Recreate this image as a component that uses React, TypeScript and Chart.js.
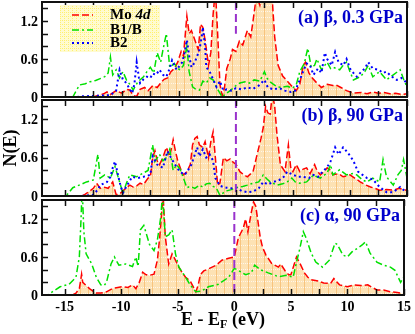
import { useEffect, useRef } from 'react';
import { Chart, registerables } from 'chart.js';

Chart.register(...registerables);

type Pt = [number, number];

// ---------- data ----------
const xRange: Pt = [-17, 15];
const yRange: Pt = [0, 1.5];
const xTickLabels = [-15, -10, -5, 0, 5, 10, 15];
const yTickLabels = [0, 0.6, 1.2];
const xMinorStep = 2.5;
const yMinorStep = 0.2;
const fermiEnergy = 0;
const seriesLabels = ['Mo 4d', 'B1/B', 'B2'];
const panelTitles = ['(a) β, 0.3 GPa', '(b) β, 90 GPa', '(c) α, 90 GPa'];

const moA: Pt[] = [[-17,0],[-12.5,0],[-12,0.03],[-11.6,0.05],[-11.3,0.08],[-11,0.04],[-10.5,0.1],[-10,0.06],[-9.6,0.12],[-9.3,0.11],[-9,0.02],[-8.7,0.01],[-8.4,0.12],[-8,0.15],[-7.7,0.1],[-7.3,0.18],[-6.9,0.15],[-6.6,0.22],[-6.3,0.28],[-6,0.3],[-5.7,0.4],[-5.4,0.45],[-5.1,0.55],[-4.8,0.72],[-4.6,0.65],[-4.3,1.28],[-4.1,1.0],[-3.9,1.05],[-3.6,0.9],[-3.3,0.75],[-3.1,1.15],[-2.9,1.1],[-2.7,0.9],[-2.4,0.5],[-2.2,0.7],[-2.0,1.3],[-1.8,1.7],[-1.6,1.0],[-1.4,0.2],[-1.2,0.02],[-1.0,0.15],[-0.8,0.45],[-0.5,0.6],[-0.3,0.75],[0,0.72],[0.3,0.88],[0.6,0.82],[1.0,1.05],[1.3,0.95],[1.5,1.2],[1.8,1.6],[2.1,1.45],[2.4,1.7],[2.7,1.55],[3.0,1.8],[3.2,1.5],[3.4,0.95],[3.7,0.5],[4.1,0.33],[4.5,0.25],[5.0,0.15],[5.3,0.1],[5.6,0.2],[5.9,0.5],[6.1,0.55],[6.4,0.38],[6.7,0.3],[7.1,0.22],[7.5,0.15],[8.0,0.2],[8.5,0.18],[8.8,0.19],[9.2,0.15],[9.7,0.1],[10.3,0.06],[11,0.07],[11.5,0.05],[12,0.08],[12.5,0.06],[13,0.07],[13.5,0.05],[14,0.06],[14.5,0.04],[15,0.05]];

const b1A: Pt[] = [[-17,0],[-14.3,0],[-14,0.1],[-13.7,0.19],[-13.2,0.21],[-12.8,0.24],[-12.3,0.26],[-11.9,0.29],[-11.5,0.32],[-11.2,0.38],[-11.0,0.63],[-10.8,0.35],[-10.5,0.43],[-10.2,0.3],[-9.9,0.4],[-9.6,0.27],[-9.3,0.2],[-9.0,0.11],[-8.6,0.24],[-8.1,0.32],[-7.8,0.4],[-7.5,0.47],[-7.2,0.38],[-6.9,0.7],[-6.6,0.55],[-6.4,0.74],[-6.1,1.0],[-5.8,0.47],[-5.4,0.53],[-5.1,0.45],[-4.9,0.43],[-4.6,0.5],[-4.3,0.8],[-4.1,0.4],[-3.8,0.16],[-3.5,0.12],[-3.2,0.11],[-2.9,0.25],[-2.6,0.22],[-2.3,0.3],[-2.0,0.27],[-1.7,0.15],[-1.4,0.06],[-1.2,0.0],[-0.9,0.05],[-0.5,0.1],[0,0.18],[0.35,0.22],[0.8,0.24],[1.2,0.22],[1.6,0.27],[2.1,0.25],[2.5,0.4],[2.7,0.3],[3.0,0.24],[3.3,0.2],[3.6,0.16],[4.0,0.15],[4.5,0.17],[5.0,0.14],[5.3,0.2],[5.6,0.4],[6.0,0.53],[6.3,0.77],[6.6,0.47],[6.9,0.5],[7.1,0.6],[7.5,0.43],[8.0,0.55],[8.3,0.45],[8.5,0.47],[9.1,0.43],[9.4,0.5],[9.7,0.55],[10.0,0.4],[10.3,0.27],[10.9,0.32],[11.3,0.4],[11.6,0.5],[12.0,0.32],[12.6,0.4],[13.2,0.27],[13.8,0.35],[14.4,0.43],[14.7,0.28],[15,0.16]];

const b2A: Pt[] = [[-17,0],[-14,0],[-13.5,0.01],[-12,0.02],[-11,0.03],[-10.5,0.1],[-10.2,0.43],[-9.9,0.27],[-9.6,0.22],[-9.3,0.12],[-9.1,0.06],[-8.9,0.2],[-8.7,0.55],[-8.5,0.3],[-8.4,0.22],[-8.1,0.28],[-7.8,0.32],[-7.5,0.3],[-7.3,0.37],[-7.0,0.35],[-6.7,0.43],[-6.4,0.35],[-6.1,0.32],[-5.8,0.45],[-5.6,0.58],[-5.2,0.43],[-4.9,0.5],[-4.7,0.55],[-4.5,0.7],[-4.3,0.9],[-4.1,0.65],[-3.9,0.47],[-3.6,0.55],[-3.2,0.74],[-3.0,0.95],[-2.9,1.1],[-2.7,0.8],[-2.6,0.47],[-2.3,0.4],[-2.1,0.32],[-1.7,0.16],[-1.4,0.25],[-1.1,0.1],[-0.8,0.12],[-0.4,0.1],[0,0.14],[0.5,0.12],[1.0,0.15],[1.5,0.13],[2.0,0.18],[2.5,0.27],[2.8,0.15],[3.3,0.12],[3.8,0.14],[4.3,0.1],[4.8,0.08],[5.2,0.1],[5.6,0.27],[6.0,0.45],[6.2,0.53],[6.5,0.5],[6.8,0.35],[7.2,0.45],[7.5,0.38],[7.8,0.7],[8.0,0.6],[8.4,0.5],[8.7,0.71],[9.0,0.55],[9.4,0.5],[9.7,0.6],[10.0,0.45],[10.3,0.38],[10.6,0.32],[11.0,0.4],[11.3,0.45],[11.6,0.55],[12.0,0.45],[12.5,0.43],[12.9,0.38],[13.2,0.4],[13.6,0.33],[14.1,0.27],[14.5,0.3],[15,0.22]];

const moB: Pt[] = [[-17,0],[-13.5,0],[-13.2,0.03],[-12.8,0.08],[-12.5,0.12],[-12.2,0.2],[-11.9,0.12],[-11.6,0.14],[-11.2,0.12],[-10.8,0.22],[-10.5,0.02],[-10.2,0.03],[-9.9,0.08],[-9.6,0.13],[-9.3,0.17],[-9.0,0.14],[-8.7,0.16],[-8.4,0.2],[-8.1,0.18],[-7.7,0.28],[-7.5,0.3],[-7.3,0.6],[-7.1,0.71],[-6.9,0.55],[-6.7,0.49],[-6.4,0.6],[-6.1,0.76],[-5.8,0.62],[-5.5,0.88],[-5.3,0.7],[-5.1,0.55],[-4.8,0.4],[-4.6,0.33],[-4.3,0.38],[-4.0,0.49],[-3.8,0.8],[-3.6,0.9],[-3.4,0.93],[-3.2,0.8],[-2.9,0.76],[-2.7,0.85],[-2.4,0.6],[-2.2,0.85],[-2.0,1.0],[-1.8,0.6],[-1.6,0.17],[-1.4,0.2],[-1.1,0.6],[-0.8,0.55],[-0.5,0.58],[-0.2,0.52],[0,0.5],[0.35,0.38],[0.7,0.33],[1.0,0.3],[1.5,0.38],[1.9,0.68],[2.2,0.9],[2.4,1.07],[2.6,1.4],[2.8,1.3],[3.0,1.28],[3.2,1.6],[3.4,1.4],[3.6,0.96],[3.9,0.49],[4.3,0.38],[4.6,0.8],[4.8,0.45],[5.0,0.38],[5.3,0.49],[5.6,0.38],[5.9,0.42],[6.2,0.44],[6.5,0.35],[6.9,0.49],[7.1,0.4],[7.4,0.33],[7.7,0.38],[8.0,0.44],[8.3,0.4],[8.5,0.33],[9.0,0.35],[9.4,0.3],[10,0.33],[10.5,0.27],[10.9,0.22],[11.4,0.17],[11.8,0.14],[12.2,0.12],[12.6,0.09],[13.2,0.1],[13.8,0.09],[14.3,0.12],[14.8,0.1],[15,0.08]];

const b1B: Pt[] = [[-17,0],[-15,0],[-14.8,0.02],[-14.3,0.13],[-13.6,0.18],[-13.1,0.22],[-12.5,0.25],[-12.1,0.65],[-11.9,0.28],[-11.5,0.33],[-11.0,0.28],[-10.6,0.46],[-10.3,0.28],[-9.9,0.04],[-9.6,0.2],[-9.3,0.33],[-8.7,0.3],[-8.1,0.36],[-7.7,0.4],[-7.5,0.6],[-7.3,0.8],[-7.1,0.54],[-6.7,0.65],[-6.4,0.55],[-6.1,0.6],[-5.8,0.73],[-5.5,0.4],[-5.2,0.49],[-4.9,0.42],[-4.6,0.28],[-4.3,0.13],[-4.0,0.15],[-3.6,0.12],[-3.2,0.17],[-2.9,0.14],[-2.6,0.19],[-2.3,0.2],[-2.0,0.15],[-1.7,0.12],[-1.4,0.01],[-1.1,0.05],[-0.8,0.08],[-0.4,0.1],[0,0.13],[0.6,0.15],[1.0,0.17],[1.5,0.2],[2.0,0.22],[2.4,0.33],[2.7,0.27],[3.0,0.22],[3.6,0.17],[4.1,0.19],[4.5,0.22],[4.9,0.28],[5.2,0.22],[5.6,0.2],[6.2,0.22],[6.8,0.33],[7.1,0.3],[7.4,0.28],[8.0,0.36],[8.3,0.49],[8.5,0.33],[9.1,0.41],[9.7,0.33],[10.2,0.35],[10.6,0.33],[11.1,0.25],[11.5,0.22],[12.0,0.28],[12.6,0.22],[12.9,0.57],[13.2,0.3],[13.8,0.17],[14.2,0.33],[14.5,0.4],[14.7,0.57],[15,0.28]];

const b2B: Pt[] = [[-17,0],[-13.5,0],[-12.5,0.02],[-12.1,0.1],[-11.9,0.17],[-11.3,0.22],[-11.0,0.3],[-10.8,0.44],[-10.6,0.54],[-10.3,0.3],[-10.1,0.15],[-9.9,0.05],[-9.6,0.15],[-9.1,0.3],[-8.6,0.28],[-8.1,0.3],[-7.5,0.33],[-7.3,0.62],[-6.9,0.49],[-6.4,0.44],[-6.0,0.7],[-5.7,0.6],[-5.5,0.54],[-5.2,0.45],[-4.9,0.38],[-4.5,0.33],[-4.2,0.4],[-3.9,0.49],[-3.6,0.65],[-3.4,0.76],[-3.2,0.62],[-2.9,0.73],[-2.6,0.6],[-2.3,0.65],[-2.0,0.55],[-1.8,0.28],[-1.4,0.16],[-1.1,0.14],[-0.8,0.13],[-0.4,0.12],[0,0.13],[0.5,0.08],[1.0,0.06],[1.5,0.07],[2.0,0.12],[2.4,0.22],[2.8,0.18],[3.3,0.22],[3.8,0.25],[4.2,0.3],[4.5,0.38],[5.0,0.33],[5.5,0.3],[5.9,0.3],[6.4,0.28],[6.8,0.33],[7.2,0.3],[7.6,0.38],[8.0,0.45],[8.3,0.54],[8.7,0.76],[9.0,0.65],[9.4,0.76],[9.8,0.68],[10.3,0.55],[10.7,0.38],[11.1,0.33],[11.5,0.28],[12.0,0.26],[12.6,0.14],[13.2,0.06],[13.8,0.06],[14.4,0.14],[14.8,0.08],[15,0.1]];

const moC: Pt[] = [[-17,0],[-14.3,0],[-14,0.03],[-13.7,0.1],[-13.5,0.33],[-13.4,0.2],[-13.1,0.15],[-12.8,0.1],[-12.5,0.06],[-12.2,0.03],[-11.8,0.03],[-11.3,0.05],[-10.8,0.1],[-10.3,0.12],[-9.9,0.13],[-9.4,0.12],[-9.0,0.16],[-8.7,0.1],[-8.4,0.2],[-8.1,0.36],[-7.8,0.32],[-7.5,0.31],[-7.1,0.33],[-6.8,0.55],[-6.6,0.9],[-6.5,1.12],[-6.3,1.6],[-6.1,0.92],[-5.8,0.49],[-5.5,0.65],[-5.2,0.55],[-4.9,0.44],[-4.6,0.35],[-4.3,0.28],[-3.9,0.22],[-3.6,0.12],[-3.4,0.05],[-3.2,0.15],[-3.0,0.32],[-2.7,0.38],[-2.2,0.42],[-1.6,0.47],[-1.1,0.55],[-0.5,0.58],[0,0.6],[0.35,0.9],[0.8,1.06],[1.0,1.2],[1.2,1.0],[1.5,1.3],[1.7,1.47],[1.9,1.4],[2.1,1.15],[2.3,0.9],[2.5,0.75],[2.8,0.63],[3.3,0.5],[3.9,0.44],[4.1,0.49],[4.5,0.38],[4.8,0.32],[5.0,0.32],[5.3,0.49],[5.5,0.6],[5.8,0.5],[6.2,0.35],[6.5,0.28],[6.8,0.24],[7.4,0.22],[7.9,0.19],[8.5,0.18],[8.8,0.26],[9.3,0.16],[10,0.13],[10.6,0.16],[11.2,0.15],[11.8,0.16],[12.2,0.12],[12.6,0.08],[13.2,0.08],[13.8,0.05],[14.4,0.04],[15,0.02]];

const bC: Pt[] = [[-17,0],[-16.5,0],[-16,0.06],[-15.4,0.13],[-14.6,0.17],[-14.0,0.28],[-13.7,0.6],[-13.55,1.2],[-13.45,1.7],[-13.3,1.0],[-13.1,0.65],[-12.6,0.49],[-12.2,0.28],[-11.8,0.16],[-11.5,0.15],[-11.3,0.2],[-10.9,0.49],[-10.6,0.6],[-10.2,0.47],[-9.6,0.49],[-9.0,0.45],[-8.7,0.6],[-8.5,0.45],[-8.3,1.03],[-8.0,1.1],[-7.5,0.8],[-7.1,0.7],[-6.8,0.87],[-6.5,1.23],[-6.35,1.6],[-6.1,0.92],[-5.8,0.95],[-5.5,1.03],[-5.2,0.65],[-4.9,0.44],[-4.3,0.28],[-3.9,0.16],[-3.4,0.05],[-2.9,0.06],[-2.3,0.13],[-1.4,0.17],[-0.5,0.28],[0,0.42],[0.35,0.39],[1.0,0.32],[1.5,0.35],[1.8,0.47],[2.3,0.4],[3.0,0.35],[3.9,0.29],[4.6,0.31],[5.2,0.28],[5.5,0.52],[5.8,0.74],[6.1,1.0],[6.3,0.92],[6.8,0.66],[7.2,0.52],[7.8,0.44],[8.4,0.55],[8.9,0.82],[9.1,0.8],[9.6,0.63],[10,0.6],[10.4,0.68],[10.9,0.74],[11.3,0.79],[11.6,0.84],[12.0,0.66],[12.6,0.52],[13.2,0.47],[13.8,0.44],[14.2,0.39],[14.7,0.2],[15,0.29]];

// ---------- styles / layout ----------
const FONT = "'Liberation Serif', 'Times New Roman', 'DejaVu Serif', serif";
const lineStyles = [
  { color: '#ff0000', dash: [7, 3], width: 1.5 },
  { color: '#00e000', dash: [7, 3, 2, 3], width: 1.5 },
  { color: '#0000ff', dash: [2, 3], width: 2 },
];

const panels = [
  { series: [moA, b1A, b2A], top: 0, h: 106, padTop: 2, padBottom: 9, showX: false, fermiFrom: 1.0, legend: true, yTitle: false },
  { series: [moB, b1B, b2B], top: 92, h: 112, padTop: 8, padBottom: 8, showX: false, fermiFrom: 0, legend: false, yTitle: true },
  { series: [moC, bC], top: 192, h: 142, padTop: 8, padBottom: 0, showX: true, fermiFrom: 0, legend: false, yTitle: false },
];

function makeFillPattern(ctx: CanvasRenderingContext2D) {
  const c = document.createElement('canvas');
  c.width = 8; c.height = 6;
  const g = c.getContext('2d')!;
  g.fillStyle = '#fde2b4'; g.fillRect(0, 0, 8, 6);
  g.fillStyle = '#f8c47e'; g.fillRect(0, 0, 1, 6);
  g.fillStyle = '#fff6ea';
  for (let i = 1; i < 8; i += 2) g.fillRect(i, 5, 1, 1);
  return ctx.createPattern(c, 'repeat')!;
}

function makeLegendPattern(ctx: CanvasRenderingContext2D) {
  const c = document.createElement('canvas');
  c.width = 4; c.height = 4;
  const g = c.getContext('2d')!;
  g.fillStyle = '#fffbd0'; g.fillRect(0, 0, 4, 4);
  g.fillStyle = '#fff070';
  g.fillRect(0, 0, 1, 1); g.fillRect(2, 0, 1, 1); g.fillRect(0, 2, 1, 1);
  return ctx.createPattern(c, 'repeat')!;
}

function makeDecor(idx: number) {
  const cfg = panels[idx];
  return {
    id: 'decor' + idx,
    afterDatasetsDraw(chart: any) {
      const { ctx, chartArea: a, scales } = chart;
      const x0 = scales.x.getPixelForValue(fermiEnergy);
      ctx.save();
      ctx.beginPath();
      ctx.rect(a.left, a.top, a.right - a.left, a.bottom - a.top);
      ctx.clip();
      ctx.strokeStyle = '#9932cc';
      ctx.lineWidth = 2;
      ctx.setLineDash([8, 4]);
      ctx.beginPath();
      ctx.moveTo(x0, scales.y.getPixelForValue(yRange[1]));
      ctx.lineTo(x0, scales.y.getPixelForValue(cfg.fermiFrom));
      ctx.stroke();
      ctx.restore();
    },
    afterDraw(chart: any) {
      const { ctx, chartArea: a, scales } = chart;
      ctx.save();
      ctx.setLineDash([]);
      ctx.strokeStyle = '#111';
      ctx.lineWidth = 1.5;
      // ticks
      ctx.beginPath();
      for (let e = Math.ceil(xRange[0] / xMinorStep) * xMinorStep; e <= xRange[1] + 1e-9; e += xMinorStep) {
        const px = Math.round(scales.x.getPixelForValue(e)) + 0.5;
        ctx.moveTo(px, a.bottom); ctx.lineTo(px, a.bottom - 6);
        ctx.moveTo(px, a.top); ctx.lineTo(px, a.top + 6);
      }
      for (let v = yMinorStep; v < yRange[1] - 1e-9; v += yMinorStep) {
        const py = Math.round(scales.y.getPixelForValue(v)) + 0.5;
        ctx.moveTo(a.left, py); ctx.lineTo(a.left + 6, py);
      }
      ctx.stroke();
      // frame
      ctx.lineWidth = 2;
      ctx.strokeStyle = '#111';
      ctx.strokeRect(a.left, a.top, a.right - a.left, a.bottom - a.top);
      // y tick labels
      ctx.fillStyle = '#000';
      ctx.font = `bold 14px ${FONT}`;
      ctx.textAlign = 'right';
      ctx.textBaseline = 'middle';
      yTickLabels.forEach((v) => {
        ctx.fillText(String(v), a.left - 4, scales.y.getPixelForValue(v) + 1);
      });
      // panel title
      ctx.fillStyle = '#0000cc';
      ctx.font = `bold 18px ${FONT}`;
      ctx.textAlign = 'right';
      ctx.textBaseline = 'alphabetic';
      ctx.fillText(panelTitles[idx], a.right - 4, a.top + 21);
      // legend
      if (cfg.legend) {
        ctx.fillStyle = makeLegendPattern(ctx);
        ctx.fillRect(60, 5, 100, 47);
        const rows = [15, 30, 43];
        cfg.series.forEach((_, i) => {
          const st = lineStyles[i];
          ctx.strokeStyle = st.color;
          ctx.lineWidth = st.width;
          ctx.setLineDash(st.dash);
          ctx.beginPath();
          ctx.moveTo(72, rows[i]); ctx.lineTo(93, rows[i]);
          ctx.stroke();
        });
        ctx.setLineDash([]);
        ctx.fillStyle = '#000';
        ctx.textAlign = 'left';
        ctx.textBaseline = 'middle';
        ctx.font = `bold 15px ${FONT}`;
        const [pre, post] = seriesLabels[0].split(' ');
        ctx.fillText(pre + ' ', 110, rows[0]);
        const w = ctx.measureText(pre + ' ').width;
        ctx.font = `italic bold 15px ${FONT}`;
        ctx.fillText(post, 110 + w, rows[0]);
        ctx.font = `bold 15px ${FONT}`;
        ctx.fillText(seriesLabels[1], 110, rows[1]);
        ctx.fillText(seriesLabels[2], 110, rows[2]);
      }
      // y title
      if (cfg.yTitle) {
        ctx.save();
        ctx.translate(11, (a.top + a.bottom) / 2);
        ctx.rotate(-Math.PI / 2);
        ctx.fillStyle = '#000';
        ctx.font = `bold 18px ${FONT}`;
        ctx.textAlign = 'center';
        ctx.textBaseline = 'middle';
        ctx.fillText('N(E)', 0, 0);
        ctx.restore();
      }
      // x title with subscript
      if (cfg.showX) {
        ctx.fillStyle = '#000';
        ctx.textBaseline = 'alphabetic';
        ctx.textAlign = 'left';
        const big = `bold 18px ${FONT}`;
        const small = `bold 12px ${FONT}`;
        const p1 = 'E - E', p2 = 'F', p3 = ' (eV)';
        ctx.font = big; const w1 = ctx.measureText(p1).width; const w3 = ctx.measureText(p3).width;
        ctx.font = small; const w2 = ctx.measureText(p2).width;
        const total = w1 + w2 + w3;
        let x = (a.left + a.right) / 2 - total / 2;
        const base = a.bottom + 30;
        ctx.font = big; ctx.fillText(p1, x, base); x += w1;
        ctx.font = small; ctx.fillText(p2, x, base + 3); x += w2;
        ctx.font = big; ctx.fillText(p3, x, base);
      }
      ctx.restore();
    },
  };
}

function Panel({ idx }: { idx: number }) {
  const ref = useRef<HTMLCanvasElement>(null);
  const cfg = panels[idx];
  useEffect(() => {
    const canvas = ref.current!;
    const ctx = canvas.getContext('2d')!;
    const fill = makeFillPattern(ctx);
    const datasets = cfg.series.map((s, i) => ({
      label: seriesLabels[i],
      data: s.map(([x, y]) => ({ x, y })),
      borderColor: lineStyles[i].color,
      borderWidth: lineStyles[i].width,
      borderDash: lineStyles[i].dash,
      pointRadius: 0,
      tension: 0,
      fill: i === 0 ? 'origin' : false,
      backgroundColor: i === 0 ? fill : 'transparent',
      order: 3 - i,
    }));
    const tickFont = { family: FONT, size: 14, weight: 'bold' as const };
    const chart = new Chart(canvas, {
      type: 'line',
      data: { datasets },
      options: {
        animation: false,
        responsive: false,
        events: [],
        layout: { padding: { top: cfg.padTop, bottom: cfg.padBottom, left: 0, right: 8 } },
        plugins: {
          legend: { display: false },
          tooltip: { enabled: false },
          filler: { drawTime: 'beforeDatasetsDraw' },
        },
        scales: {
          x: {
            type: 'linear',
            min: xRange[0],
            max: xRange[1],
            display: cfg.showX,
            afterBuildTicks: (s: any) => { s.ticks = xTickLabels.map((v) => ({ value: v })); },
            afterFit: (s: any) => { s.height = cfg.showX ? 39 : 0; },
            grid: { display: false, drawTicks: false },
            border: { display: false },
            ticks: { font: tickFont, color: '#000', padding: 4, maxRotation: 0, autoSkip: false, callback: (v: any) => String(v) },
          },
          y: {
            type: 'linear',
            min: yRange[0],
            max: yRange[1],
            afterFit: (s: any) => { s.width = 42; },
            grid: { display: false, drawTicks: false },
            border: { display: false },
            ticks: { display: false },
          },
        },
      } as any,
      plugins: [makeDecor(idx)],
    });
    return () => chart.destroy();
  }, []);
  return (
    <canvas
      ref={ref}
      width={415}
      height={cfg.h}
      style={{ position: 'absolute', left: 0, top: cfg.top, width: 415, height: cfg.h }}
    />
  );
}

export default function App() {
  return (
    <div style={{ position: 'fixed', left: 0, top: 0, width: 415, height: 334, background: '#fff' }}>
      {panels.map((_, i) => (
        <Panel key={i} idx={i} />
      ))}
    </div>
  );
}
